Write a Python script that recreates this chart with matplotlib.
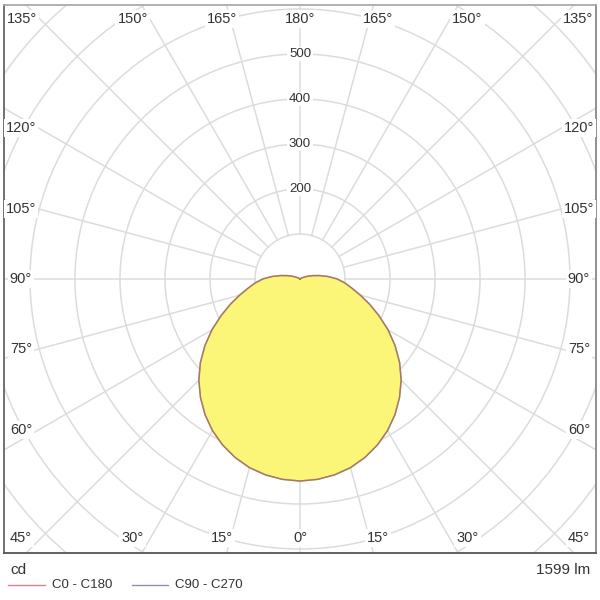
import numpy as np
import matplotlib
matplotlib.use("Agg")
import matplotlib.pyplot as plt
from matplotlib.patches import Circle
from matplotlib.lines import Line2D

plt.rcParams['font.family'] = ['Liberation Sans', 'DejaVu Sans']

# ---- data ----
angles_deg = [0, 5, 10, 15, 20, 25, 30, 35, 40, 45, 50, 55, 60, 65, 70, 75, 80, 85,
              90, 95, 100, 105, 110, 115, 120, 125, 130, 140, 150, 160, 170, 180]
c0_c180 = [449, 447, 442, 434, 422, 407, 389, 368, 344, 318, 289, 258, 226, 194, 165, 139, 117, 100,
           83, 63, 44, 29, 18, 10, 5, 2, 0, 0, 0, 0, 0, 0]
c90_c270 = [449, 447, 442, 434, 422, 407, 389, 368, 344, 318, 289, 258, 226, 194, 165, 139, 117, 100,
            83, 63, 44, 29, 18, 10, 5, 2, 0, 0, 0, 0, 0, 0]
ring_values = [100, 200, 300, 400, 500, 600, 700, 800, 900, 1000]
ring_labels = [200, 300, 400, 500]
spoke_angles = list(range(0, 360, 15))
unit_label = "cd"
flux_label = "1599 lm"
series_names = ["C0 - C180", "C90 - C270"]

# ---- style ----
grid_col = '#dcdcdc'
fill_col = '#fbf678'
c0_col = '#e0808c'
c90_col = '#9090b4'
c0_curve = '#b8765e'
c90_curve = '#8c8070'
txt_col = '#333333'

fig = plt.figure(figsize=(6, 6), dpi=100)
ax = fig.add_axes([4/600, 47/600, 592/600, 548/600])
PX = 1/0.45  # cd per pixel
ax.set_xlim(-296*PX, 296*PX)
ax.set_ylim(-274*PX, 274*PX)
ax.set_xticks([]); ax.set_yticks([])
for side, col in [('left', '#666666'), ('bottom', '#555555'), ('right', '#888888'), ('top', '#aaaaaa')]:
    ax.spines[side].set_color(col)
    ax.spines[side].set_linewidth(1.3)

# grid
for r in ring_values:
    ax.add_patch(Circle((0, 0), r, fill=False, ec=grid_col, lw=1.1, zorder=1))
for a in spoke_angles:
    t = np.deg2rad(a)
    ax.plot([ring_values[0]*np.sin(t), 1200*np.sin(t)],
            [-ring_values[0]*np.cos(t), -1200*np.cos(t)], color=grid_col, lw=1.1, zorder=1)

# curves
ang = np.array(angles_deg, dtype=float)
def full_curve(vals):
    v = np.array(vals, dtype=float)
    th = np.deg2rad(np.concatenate([-ang[::-1], ang[1:]]))
    I = np.concatenate([v[::-1], v[1:]])
    return I*np.sin(th), -I*np.cos(th)

x0, y0 = full_curve(c0_c180)
x9, y9 = full_curve(c90_c270)
ax.fill(x0, y0, color=fill_col, zorder=3, lw=0)
ax.plot(x0, y0, color=c0_curve, lw=1.1, zorder=4)
ax.plot(x9, y9, color=c90_curve, lw=1.0, zorder=5, alpha=0.5)

# ring labels
for r in ring_labels:
    ax.text(0, r, str(r), ha='center', va='center', fontsize=9.5, color=txt_col, zorder=6,
            bbox=dict(fc='white', ec='none', pad=1.0))

# angle labels
bb = dict(fc='white', ec='none', pad=1.5)
def lab(x, y, s):
    ax.text(x*PX, y*PX, s, ha='center', va='center', fontsize=10.5, color=txt_col, zorder=6, bbox=bb)

for a in [0, 15, 30]:
    dx = 290*np.tan(np.deg2rad(a))
    for sgn in ([1] if a == 0 else [-1, 1]):
        lab(sgn*dx, -259, f"{a}°")
for a in [180, 165, 150]:
    dx = 290*np.tan(np.deg2rad(180 - a))
    for sgn in ([1] if a == 180 else [-1, 1]):
        lab(sgn*dx, 260, f"{a}°")
for a in [60, 75, 90, 105, 120]:
    dy = -262*np.tan(np.deg2rad(90 - a))
    for sgn in [-1, 1]:
        lab(sgn*279, dy, f"{a}°")
for sgn in [-1, 1]:
    lab(sgn*279, -259, "45°")
    lab(sgn*278, 260, "135°")

# footer
fig.text(10/600, 1 - 570/600, unit_label, ha='left', va='center', fontsize=11, color=txt_col)
fig.text(590/600, 1 - 570/600, flux_label, ha='right', va='center', fontsize=11, color=txt_col)
yl = 1 - 585/600
fig.add_artist(Line2D([8/600, 45/600], [yl, yl], color=c0_col, lw=1.0))
fig.text(52/600, yl, series_names[0], ha='left', va='center', fontsize=9.5, color=txt_col)
fig.add_artist(Line2D([132/600, 168/600], [yl, yl], color=c90_col, lw=1.0))
fig.text(175/600, yl, series_names[1], ha='left', va='center', fontsize=9.5, color=txt_col)

fig.savefig('out.png', dpi=100)
